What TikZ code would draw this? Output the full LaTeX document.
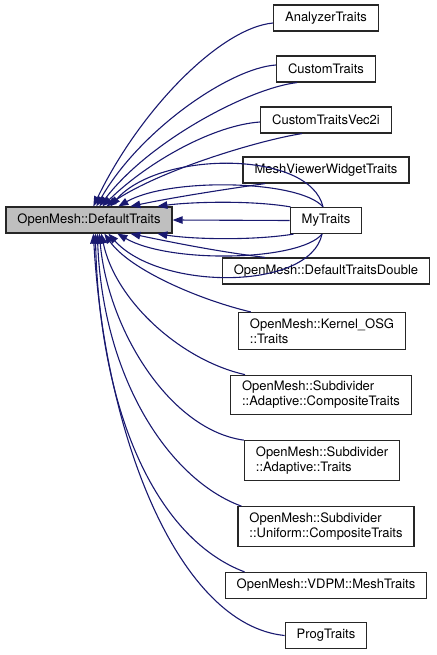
\documentclass[tikz,border=0pt]{standalone}
\usepackage{fontspec}
\setmainfont{TeX Gyre Heros}
\usepackage{tikz}
\usetikzlibrary{arrows.meta, positioning, calc}

\definecolor{midnight}{HTML}{191970}
\definecolor{grey75}{HTML}{BFBFBF}

\tikzset{
	cls/.style = {draw = black!85, line width = 1.2pt, fill = white, minimum height = 26pt, inner xsep = 11.5pt, inner ysep = 4pt, font = \fontsize{13}{15}\selectfont, align = left},
	twoline/.style = {cls, inner ysep = 6pt},
	base/.style = {cls, fill = grey75},
	inherit/.style = {draw = midnight, line width = 1.1pt, arrows = {Triangle[length = 10pt, width = 7.5pt]-}}
}

\begin{document}
\begin{tikzpicture}[x = 1pt, y = -1pt]
	\useasboundingbox (0,0) rectangle (436,655);

	\node[base] (dt) at (89,220) {OpenMesh::DefaultTraits};

	\node[cls] (analyzer) at (326,18) {AnalyzerTraits};
	\node[cls] (custom) at (326,69) {CustomTraits};
	\node[cls] (vec) at (326,120) {CustomTraitsVec2i};
	\node[cls] (viewer) at (326,170) {MeshViewerWidgetTraits};
	\node[cls] (my) at (326,220.5) {MyTraits};
	\node[cls] (double) at (326,271) {OpenMesh::DefaultTraitsDouble};
	\node[twoline] (osg) at (322,331) {OpenMesh::Kernel\_OSG\\::Traits};
	\node[twoline] (adcomp) at (321,395) {OpenMesh::Subdivider\\::Adaptive::CompositeTraits};
	\node[twoline] (adtraits) at (322,460.5) {OpenMesh::Subdivider\\::Adaptive::Traits};
	\node[twoline] (unicomp) at (326,526.5) {OpenMesh::Subdivider\\::Uniform::CompositeTraits};
	\node[cls] (vdpm) at (326,585.5) {OpenMesh::VDPM::MeshTraits};
	\node[cls] (prog) at (326,635.5) {ProgTraits};

	% above the base class
	\draw[inherit] ([xshift = 88]dt.north west) .. controls (140,110) and (220,28) .. ([yshift = -5]analyzer.west);
	\draw[inherit] ([xshift = 91]dt.north west) .. controls (140,130) and (230,68) .. ([yshift = 4]custom.west);
	\draw[inherit] ([xshift = 94]dt.north west) .. controls (150,140) and (250,88) .. ([xshift = -29]custom.south);
	\draw[inherit] ([xshift = 97]dt.north west) .. controls (150,160) and (215,125) .. ([yshift = -2]vec.west);
	\draw[inherit] ([xshift = 101]dt.north west) .. controls (160,170) and (260,140) .. ([xshift = -24]vec.south);
	\draw[inherit] ([xshift = 105]dt.north west) .. controls (160,150) and (310,150) .. ([xshift = -3]my.north);
	\draw[inherit] ([xshift = 113]dt.north west) .. controls (170,177) and (300,180) .. ([xshift = -3]my.north);
	\draw[inherit] ([xshift = 125]dt.north west) .. controls (170,198) and (220,190) .. ([xshift = -61]viewer.south);
	\draw[inherit] ([xshift = 152]dt.north west) .. controls (190,202) and (250,200) .. ([xshift = 1]my.north west);
	\draw[inherit] (dt.east) -- (my.west);
	% below the base class
	\draw[inherit] ([xshift = 152]dt.south west) .. controls (190,239) and (250,241) .. ([xshift = 4]my.south west);
	\draw[inherit] ([xshift = 125]dt.south west) .. controls (170,242) and (220,252) .. ([xshift = -61]double.north);
	\draw[inherit] ([xshift = 112]dt.south west) .. controls (170,264) and (300,261) .. ([xshift = -4]my.south);
	\draw[inherit] ([xshift = 103]dt.south west) .. controls (160,291) and (310,291) .. ([xshift = -4]my.south);
	\draw[inherit] ([xshift = 99]dt.south west) .. controls (130,270) and (200,300) .. ([xshift = 13]osg.north west);
	\draw[inherit] ([xshift = 96]dt.south west) .. controls (115,300) and (180,360) .. ([xshift = 15]adcomp.north west);
	\draw[inherit] ([xshift = 94]dt.south west) .. controls (108,330) and (170,430) .. (adtraits.north west);
	\draw[inherit] ([xshift = 92]dt.south west) .. controls (103,380) and (170,480) .. ([xshift = 4]unicomp.north west);
	\draw[inherit] ([xshift = 90]dt.south west) .. controls (100,420) and (160,540) .. ([xshift = 20]vdpm.north west);
	\draw[inherit] ([xshift = 88]dt.south west) .. controls (105,440) and (180,625) .. (prog.west);
\end{tikzpicture}
\end{document}
